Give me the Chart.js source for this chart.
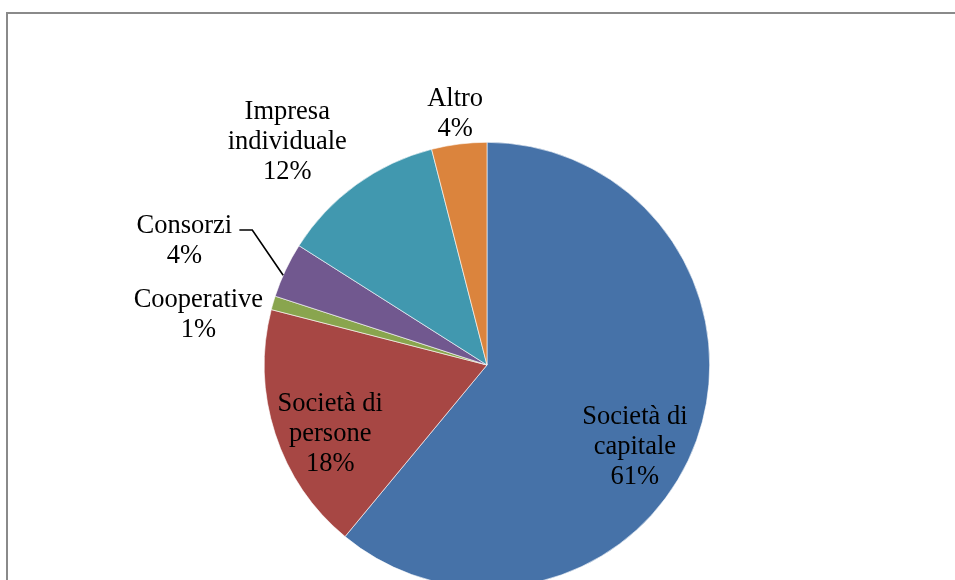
<!DOCTYPE html>
<html>
<head>
<meta charset="utf-8">
<script src="https://cdn.jsdelivr.net/npm/chart.js@4/dist/chart.umd.min.js"></script>
<style>
  html, body { margin: 0; padding: 0; background: #ffffff; overflow: hidden; }
  #wrap { position: relative; width: 955px; height: 580px; overflow: hidden; }
  #frame { position: absolute; left: 6px; top: 12px; width: 1000px; height: 700px;
           border-left: 2px solid #8a8a8a; border-top: 2px solid #8a8a8a; box-sizing: border-box; }
  canvas { position: absolute; left: 0; top: 0; }
</style>
</head>
<body>
<div id="wrap">
  <div id="frame"></div>
  <canvas id="c" width="955" height="700"></canvas>
</div>
<script>
// Forma giuridica delle imprese (quote percentuali)
const categories = ['Società di capitale', 'Società di persone', 'Cooperative', 'Consorzi', 'Impresa individuale', 'Altro'];
const labelLines = [['Società di', 'capitale'], ['Società di', 'persone'], ['Cooperative'], ['Consorzi'], ['Impresa', 'individuale'], ['Altro']];
const shares = [61, 18, 1, 4, 12, 4];
const colors = ['#4672a8', '#a74744', '#89a54e', '#71588f', '#4198af', '#db843d'];

// Label anchors relative to the pie centre, in units of the outer radius
const labelAnchors = [
  [0.664, 0.370], [-0.704, 0.308], [-1.296, -0.226],
  [-1.359, -0.558], [-0.897, -1.002], [-0.143, -1.128]
];
// Slices whose label sits outside with a leader line (elbow in radius units)
const leaders = { 3: [[-1.112, -0.606], [-1.054, -0.606]] };

const labelPlugin = {
  id: 'sliceLabels',
  afterDatasetsDraw(chart) {
    const ctx = chart.ctx;
    const meta = chart.getDatasetMeta(0);
    const data = chart.data.datasets[0].data;
    const total = data.reduce((a, b) => a + b, 0);
    ctx.save();
    ctx.font = '26.5px "Liberation Serif", "Times New Roman", serif';
    ctx.fillStyle = '#000000';
    ctx.textAlign = 'center';
    ctx.textBaseline = 'middle';
    const lh = 30;
    meta.data.forEach((arc, i) => {
      const { x, y, outerRadius, startAngle, endAngle } = arc.getProps(['x', 'y', 'outerRadius', 'startAngle', 'endAngle'], true);
      const pct = Math.round(data[i] / total * 100) + '%';
      const lines = labelLines[i].concat([pct]);
      const cx = x + labelAnchors[i][0] * outerRadius;
      const cy = y + labelAnchors[i][1] * outerRadius;
      const top = cy - (lines.length - 1) * lh / 2;
      lines.forEach((t, k) => ctx.fillText(t, cx, top + k * lh));
      if (leaders[i]) {
        const a = startAngle + (endAngle - startAngle) * 0.4;
        ctx.beginPath();
        ctx.strokeStyle = '#000000';
        ctx.lineWidth = 1.6;
        ctx.moveTo(x + Math.cos(a) * outerRadius, y + Math.sin(a) * outerRadius);
        ctx.lineTo(x + leaders[i][1][0] * outerRadius, y + leaders[i][1][1] * outerRadius);
        ctx.lineTo(x + leaders[i][0][0] * outerRadius, y + leaders[i][0][1] * outerRadius);
        ctx.stroke();
      }
    });
    ctx.restore();
  }
};

new Chart(document.getElementById('c'), {
  type: 'pie',
  data: {
    labels: categories,
    datasets: [{
      data: shares,
      backgroundColor: colors,
      borderColor: '#ffffff',
      borderWidth: 0.6
    }]
  },
  options: {
    responsive: false,
    animation: false,
    layout: { padding: { top: 142, left: 264, right: 245, bottom: 112 } },
    plugins: { legend: { display: false }, tooltip: { enabled: false } }
  },
  plugins: [labelPlugin]
});
</script>
</body>
</html>
